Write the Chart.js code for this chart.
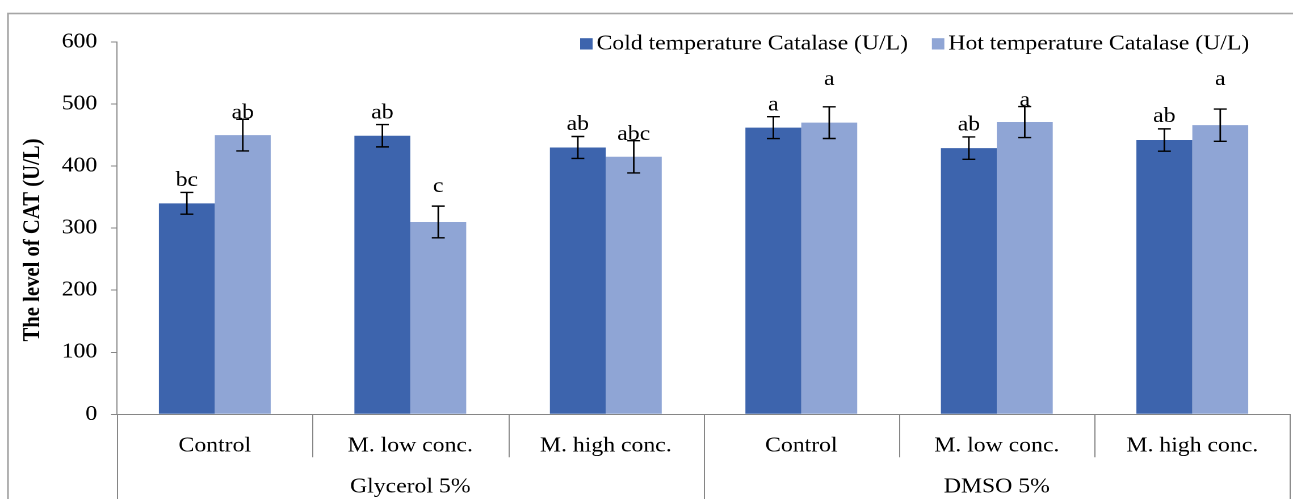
<!DOCTYPE html>
<html><head><meta charset="utf-8">
<script src="https://cdn.jsdelivr.net/npm/chart.js@4.4.0/dist/chart.umd.min.js"></script>
<style>
html,body{margin:0;padding:0;background:#fff;overflow:hidden;}
#wrap{width:1139px;height:499px;transform:scaleX(1.13521);transform-origin:0 0;}
</style></head><body>
<div id="wrap"><canvas id="c" width="1139" height="499"></canvas></div>
<script>
// ---- data ----
const categories = ['Control', 'M. low conc.', 'M. high conc.', 'Control', 'M. low conc.', 'M. high conc.'];
const groups = ['Glycerol 5%', 'DMSO 5%'];
const groupSpans = [3, 3];
const seriesNames = ['Cold temperature Catalase (U/L)', 'Hot temperature Catalase (U/L)'];
const coldValues = [340, 449, 430, 462, 429, 442];
const hotValues = [450, 310, 415, 470, 471, 466];
const coldErrors = [17.5, 18, 17.7, 17.7, 18, 18];
const hotErrors = [25.5, 25.5, 26, 25.5, 25, 26];
const coldLetters = ['bc', 'ab', 'ab', 'a', 'ab', 'ab'];
const hotLetters = ['ab', 'c', 'abc', 'a', 'a', 'a'];
const coldLetterLevel = [368, 477, 458, 490, 457, 471];
const hotLetterLevel = [477, 358, 442, 531, 497, 531];
const yTicks = [0, 100, 200, 300, 400, 500, 600];
const yTitle = 'The level of CAT (U/L)';

// ---- style ----
const FONT = "'Liberation Serif','Times New Roman',serif";
const FS = 20.9;
const COLD = '#3D64AD';
const HOT = '#8FA5D5';
const AXIS = '#868686';

Chart.defaults.font.family = FONT;
Chart.defaults.font.size = FS;
Chart.defaults.color = '#000';

const errorsBySet = [coldErrors, hotErrors];
const lettersBySet = [coldLetters, hotLetters];
const levelsBySet = [coldLetterLevel, hotLetterLevel];

const extras = {
  id: 'extras',
  afterDraw(chart) {
    const ctx = chart.ctx;
    const ca = chart.chartArea;
    const xs = chart.scales.x, ys = chart.scales.y;
    ctx.save();
    // outer frame
    ctx.strokeStyle = '#A6A6A6';
    ctx.lineWidth = 1.6;
    ctx.strokeRect(7, 13.5, 1200, 600);

    // category separators
    ctx.strokeStyle = AXIS;
    ctx.lineWidth = 1;
    let idx = 0;
    const bounds = [0];
    groupSpans.forEach(s => { idx += s; bounds.push(idx); });
    for (let i = 0; i <= categories.length; i++) {
      const x = Math.round(xs.getPixelForValue(i - 0.5)) + 0.5;
      const full = bounds.includes(i);
      ctx.beginPath();
      ctx.moveTo(x, ca.bottom);
      ctx.lineTo(x, full ? chart.height : ca.bottom + 43);
      ctx.stroke();
    }
    // category labels
    ctx.fillStyle = '#000';
    ctx.font = FS + 'px ' + FONT;
    ctx.textAlign = 'center';
    ctx.textBaseline = 'alphabetic';
    categories.forEach((c, i) => {
      ctx.fillText(c, xs.getPixelForValue(i), ca.bottom + 37.4);
    });
    // group labels
    let start = 0;
    groups.forEach((g, gi) => {
      const end = start + groupSpans[gi];
      const x0 = xs.getPixelForValue(start - 0.5), x1 = xs.getPixelForValue(end - 0.5);
      ctx.fillText(g, (x0 + x1) / 2, ca.bottom + 78.2);
      start = end;
    });

    // error bars and letters
    chart.data.datasets.forEach((ds, di) => {
      const meta = chart.getDatasetMeta(di);
      meta.data.forEach((bar, i) => {
        const v = ds.data[i], e = errorsBySet[di][i];
        const yT = ys.getPixelForValue(v + e), yB = ys.getPixelForValue(v - e);
        const x = bar.x;
        ctx.strokeStyle = '#000';
        ctx.lineWidth = 1.4;
        ctx.beginPath();
        ctx.moveTo(x, yT); ctx.lineTo(x, yB);
        ctx.moveTo(x - 5.7, yT); ctx.lineTo(x + 5.7, yT);
        ctx.moveTo(x - 5.7, yB); ctx.lineTo(x + 5.7, yB);
        ctx.stroke();
        ctx.fillStyle = '#000';
        ctx.font = FS + 'px ' + FONT;
        ctx.textAlign = 'center';
        ctx.textBaseline = 'alphabetic';
        ctx.fillText(lettersBySet[di][i], x, ys.getPixelForValue(levelsBySet[di][i]));
      });
    });

    // legend
    let lx = 511;
    const ly = 49.5;
    chart.data.datasets.forEach((ds, di) => {
      ctx.fillStyle = ds.backgroundColor;
      ctx.fillRect(lx, ly - 11.3, 11, 11.3);
      ctx.fillStyle = '#000';
      ctx.textAlign = 'left';
      ctx.font = FS + 'px ' + FONT;
      ctx.fillText(ds.label, lx + 14.5, ly);
      lx += 14.5 + ctx.measureText(ds.label).width + 21;
    });

    // y title
    ctx.save();
    ctx.translate(29, 240);
    ctx.rotate(-Math.PI / 2);
    ctx.font = 'bold 20.7px ' + FONT;
    ctx.textAlign = 'center';
    ctx.textBaseline = 'middle';
    ctx.fillStyle = '#000';
    ctx.fillText(yTitle, 0, 0);
    ctx.restore();

    ctx.restore();
  }
};

new Chart(document.getElementById('c'), {
  type: 'bar',
  data: {
    labels: categories,
    datasets: [
      { label: seriesNames[0], data: coldValues, backgroundColor: COLD, borderWidth: 0 },
      { label: seriesNames[1], data: hotValues, backgroundColor: HOT, borderWidth: 0 }
    ]
  },
  options: {
    responsive: false,
    devicePixelRatio: 2,
    animation: false,
    events: [],
    layout: { padding: { left: 0, right: 2.6, top: 42, bottom: 0 } },
    datasets: { bar: { categoryPercentage: 0.572, barPercentage: 1.0 } },
    plugins: { legend: { display: false }, tooltip: { enabled: false }, title: { display: false } },
    scales: {
      x: {
        grid: { display: false },
        ticks: { display: false },
        border: { display: true, color: AXIS, width: 1 },
        afterFit(s) { s.height = 84.7; }
      },
      y: {
        min: 0, max: 600,
        afterBuildTicks(s) { s.ticks = yTicks.map(v => ({ value: v })); },
        ticks: { padding: 12.1, color: '#000', font: { size: FS, family: FONT } },
        grid: { drawOnChartArea: false, drawTicks: true, tickLength: 5.3, color: AXIS },
        border: { display: true, color: AXIS, width: 1 },
        afterFit(s) { s.width = 103.1; }
      }
    }
  },
  plugins: [extras]
});
</script>
</body></html>
